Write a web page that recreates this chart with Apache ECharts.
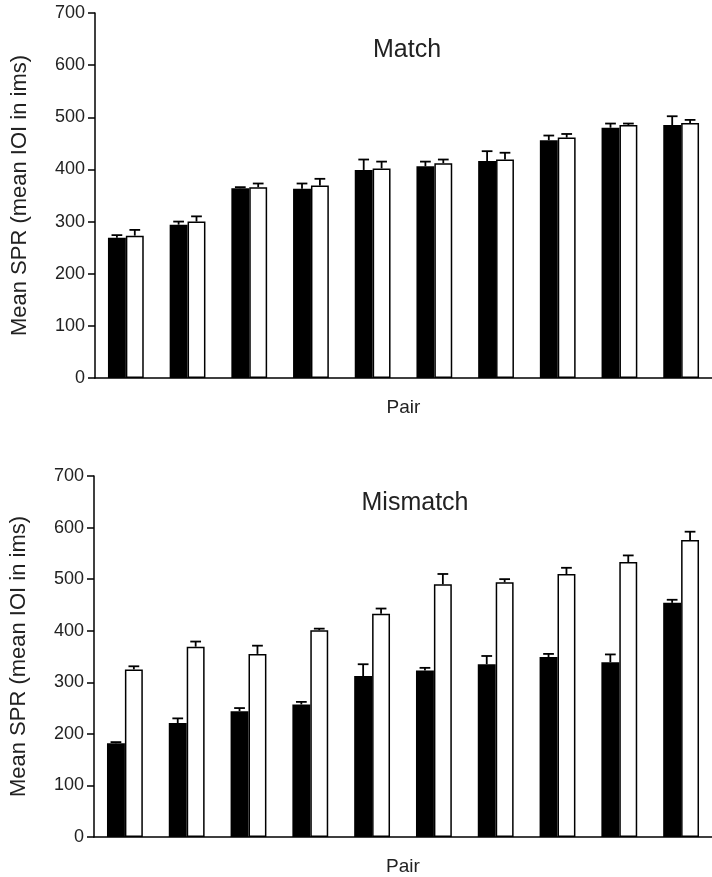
<!DOCTYPE html>
<html>
<head>
<meta charset="utf-8">
<script src="https://cdn.jsdelivr.net/npm/echarts@6/dist/echarts.min.js"></script>
<style>html,body{margin:0;padding:0;background:#fff}#c{width:712px;height:877px}</style>
</head>
<body>
<div id="c"></div>
<script>
const pairs = ['1','2','3','4','5','6','7','8','9','10'];
const yTicks = [0,100,200,300,400,500,600,700];

const matchBlack    = [269, 294, 364, 363, 399, 406, 416, 456, 480, 485];
const matchBlackErr = [5, 6, 2, 10, 20, 9, 19, 9, 8, 17];
const matchWhite    = [273, 300, 366, 369, 402, 412, 419, 461, 485, 489];
const matchWhiteErr = [11, 10, 7, 13, 13, 7, 13, 7, 3, 6];

const misBlack    = [182, 221, 244, 257, 312, 323, 335, 349, 339, 454];
const misBlackErr = [2, 9, 6, 5, 23, 5, 16, 6, 15, 6];
const misWhite    = [325, 369, 355, 401, 433, 490, 494, 510, 533, 576];
const misWhiteErr = [6, 10, 16, 3, 10, 20, 6, 12, 13, 16];

const BAR_FRAC = 0.29;
const sans = '"Liberation Sans", Arial, sans-serif';

function errSeries(idx, vals, errs, side) {
  return {
    type: 'custom',
    xAxisIndex: idx, yAxisIndex: idx,
    z: 5,
    data: vals.map((v, i) => [i, v, v + errs[i]]),
    renderItem: function (params, api) {
      const i = api.value(0);
      const base = api.coord([i, api.value(1)]);
      const top = api.coord([i, api.value(2)]);
      const band = api.size([1, 0])[0];
      const bw = band * BAR_FRAC;
      const cx = base[0] + side * bw / 2;
      const cap = bw * 0.6;
      return {
        type: 'group',
        children: [
          { type: 'line', shape: { x1: cx, y1: base[1], x2: cx, y2: top[1] }, style: { stroke: '#000', lineWidth: 1.8 } },
          { type: 'line', shape: { x1: cx - cap / 2, y1: top[1], x2: cx + cap / 2, y2: top[1] }, style: { stroke: '#000', lineWidth: 1.8 } }
        ]
      };
    }
  };
}

function barSeries(idx, vals, white) {
  return {
    type: 'bar',
    xAxisIndex: idx, yAxisIndex: idx,
    data: vals,
    barWidth: (BAR_FRAC * 100) + '%',
    barGap: '0%',
    itemStyle: white ? { color: '#fff', borderColor: '#000', borderWidth: 1.5 } : { color: '#000', borderColor: '#000', borderWidth: 0 },
    silent: true
  };
}

function yAxis(idx) {
  return {
    gridIndex: idx,
    type: 'value',
    min: yTicks[0], max: yTicks[yTicks.length - 1], interval: 100,
    name: 'Mean SPR (mean IOI in ims)',
    nameLocation: 'middle',
    nameGap: 64,
    nameTextStyle: { fontFamily: sans, fontSize: 22, color: '#222' },
    axisLine: { show: true, lineStyle: { color: '#000', width: 1.5 } },
    axisTick: { show: true, length: 7, lineStyle: { color: '#000', width: 1.5 } },
    axisLabel: { fontFamily: sans, fontSize: 18, color: '#222', margin: 10 },
    splitLine: { show: false }
  };
}

function xAxis(idx) {
  return {
    gridIndex: idx,
    type: 'category',
    data: pairs,
    name: 'Pair',
    nameLocation: 'middle',
    nameGap: 20,
    nameTextStyle: { fontFamily: sans, fontSize: 19, color: '#222' },
    axisLine: { show: true, lineStyle: { color: '#000', width: 1.5 } },
    axisTick: { show: false },
    axisLabel: { show: false },
    splitLine: { show: false }
  };
}

const chart = echarts.init(document.getElementById('c'), null, { renderer: 'canvas' });
chart.setOption({
  animation: false,
  backgroundColor: '#fff',
  title: [
    { text: 'Match', left: 402, top: 33, textAlign: 'center', textStyle: { fontFamily: sans, fontSize: 25, fontWeight: 'normal', color: '#222' } },
    { text: 'Mismatch', left: 410, top: 486, textAlign: 'center', textStyle: { fontFamily: sans, fontSize: 25, fontWeight: 'normal', color: '#222' } }
  ],
  grid: [
    { left: 95, top: 13, width: 618, height: 365 },
    { left: 94, top: 476, width: 618, height: 367 }
  ],
  xAxis: [xAxis(0), xAxis(1)],
  yAxis: [yAxis(0), yAxis(1)],
  series: [
    barSeries(0, matchBlack, false),
    barSeries(0, matchWhite, true),
    errSeries(0, matchBlack, matchBlackErr, -1),
    errSeries(0, matchWhite, matchWhiteErr, 1),
    barSeries(1, misBlack, false),
    barSeries(1, misWhite, true),
    errSeries(1, misBlack, misBlackErr, -1),
    errSeries(1, misWhite, misWhiteErr, 1)
  ]
});
</script>
</body>
</html>
